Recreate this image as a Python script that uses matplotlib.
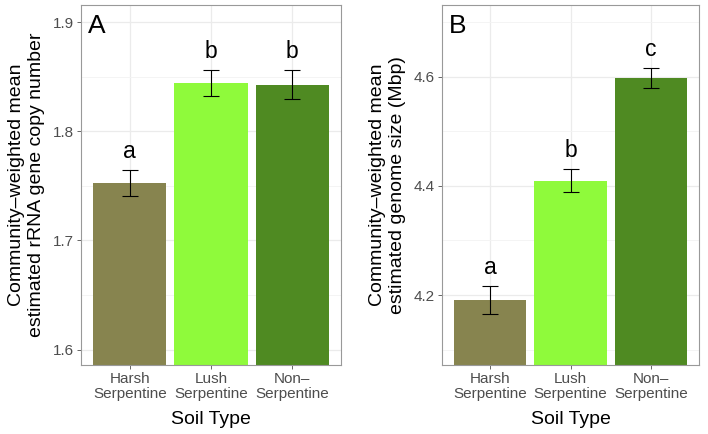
import matplotlib
matplotlib.use("Agg")
import matplotlib.pyplot as plt
from matplotlib.ticker import MultipleLocator

plt.rcParams['font.family'] = ['Liberation Sans', 'DejaVu Sans']

categories = ["Harsh\nSerpentine", "Lush\nSerpentine", "Non\u2013\nSerpentine"]
colors = ["#87844f", "#8ffa3b", "#4f8a22"]

rrna_mean = [1.7524, 1.8439, 1.8427]
rrna_se = [0.0119, 0.0119, 0.0135]
rrna_letters = ["a", "b", "b"]

genome_mean = [4.191, 4.409, 4.5976]
genome_se = [0.025, 0.021, 0.018]
genome_letters = ["a", "b", "c"]

fig = plt.figure(figsize=(7.08, 4.34), dpi=100)

def panel(rect, means, ses, letters, ylim, major, minor, ylabel, tag):
    ax = fig.add_axes(rect)
    x = list(range(1, len(means) + 1))
    ax.set_axisbelow(True)
    ax.yaxis.set_major_locator(MultipleLocator(major))
    ax.yaxis.set_minor_locator(MultipleLocator(minor))
    ax.grid(True, which='major', color='#ebebeb', lw=0.9)
    ax.grid(True, which='minor', axis='y', color='#f3f3f3', lw=0.6)
    ax.bar(x, means, width=0.9, color=colors, zorder=2)
    ax.errorbar(x, means, yerr=ses, fmt='none', ecolor='black', elinewidth=0.8,
                capsize=6, capthick=0.8, zorder=3)
    for xi, m, s, l in zip(x, means, ses, letters):
        ax.annotate(l, (xi, m + s), xytext=(0, 5), textcoords='offset points',
                    ha='center', va='bottom', fontsize=16.5, color='black')
    ax.set_xlim(0.4, 3.6)
    ax.set_ylim(*ylim)
    ax.set_xticks(x)
    ax.set_xticklabels(categories, fontsize=11, color='#4d4d4d', linespacing=1.1)
    ax.tick_params(axis='y', which='minor', length=0)
    ax.tick_params(axis='both', which='major', length=3, width=0.6, color='#4d4d4d',
                   labelsize=11, labelcolor='#4d4d4d', pad=2)
    ax.set_xlabel("Soil Type", fontsize=14, labelpad=7)
    ax.set_ylabel(ylabel, fontsize=14, labelpad=6, linespacing=1.2)
    for sp in ax.spines.values():
        sp.set_color('#999999')
        sp.set_linewidth(0.8)
    ax.text(0.025, 0.975, tag, transform=ax.transAxes, ha='left', va='top',
            fontsize=19, color='black')
    return ax

panel([0.1144, 0.159, 0.3672, 0.8295], rrna_mean, rrna_se, rrna_letters,
      (1.586, 1.9156), 0.1, 0.05,
      "Community\u2013weighted mean\nestimated rRNA gene copy number", "A")
panel([0.6243, 0.159, 0.363, 0.8295], genome_mean, genome_se, genome_letters,
      (4.072, 4.731), 0.2, 0.1,
      "Community\u2013weighted mean\nestimated genome size (Mbp)", "B")

fig.savefig("out.png", dpi=100)
